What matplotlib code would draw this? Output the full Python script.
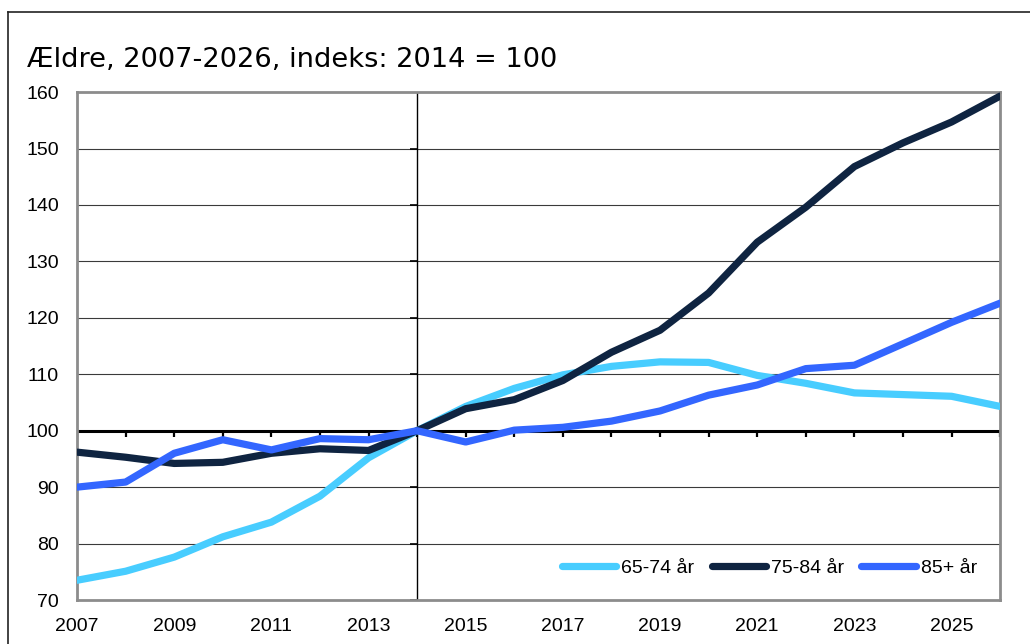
import matplotlib.pyplot as plt
from matplotlib.lines import Line2D
import numpy as np

years = list(range(2007, 2027))
age_65_74 = [73.5, 75.1, 77.6, 81.2, 83.8, 88.4, 95.2, 100.0, 104.3, 107.5,
             109.9, 111.4, 112.2, 112.1, 109.8, 108.4, 106.7, 106.4, 106.1, 104.3]
age_75_84 = [96.2, 95.3, 94.2, 94.4, 96.0, 96.8, 96.5, 100.0, 103.9, 105.5,
             108.9, 113.9, 117.8, 124.4, 133.4, 139.6, 146.8, 151.0, 154.7, 159.3]
age_85_plus = [90.0, 90.9, 96.0, 98.4, 96.6, 98.6, 98.4, 100.0, 98.0, 100.1,
               100.6, 101.7, 103.5, 106.3, 108.1, 111.0, 111.6, 115.4, 119.2, 122.6]
labels = ["65-74 år", "75-84 år", "85+ år"]
colors = ["#48CDFF", "#0F2441", "#3366FF"]
yticks = list(range(70, 161, 10))
xticks = list(range(2007, 2026, 2))
title = "Ældre, 2007-2026, indeks: 2014 = 100"

fig = plt.figure(figsize=(10.3, 6.44), dpi=100)
ax = fig.add_axes([0.0748, 0.0683, 0.8962, 0.7887])

# gridlines
for y in yticks[1:-1]:
	if y != 100:
		ax.axhline(y, color="#3a3a3a", lw=0.8, zorder=1)

# reference lines: index 100 and base year 2014
ax.axhline(100, color="black", lw=2.2, zorder=2)
ax.vlines(years, 98.8, 100, color="black", lw=1.6, zorder=2)
ax.axvline(2014, color="black", lw=1.0, zorder=2)
ax.hlines(yticks, 2014 - 0.15, 2014, color="black", lw=1.2, zorder=2)

series = [age_65_74, age_75_84, age_85_plus]
for s, lab, c in zip(series, labels, colors):
	ax.plot(years, s, color=c, lw=5.2, label=lab, zorder=3, solid_capstyle="round")

ax.set_xlim(2007, 2026)
ax.set_ylim(70, 160)
ax.set_yticks(yticks)
ax.set_xticks(xticks)
ax.tick_params(axis="both", length=0, labelsize=14)
ax.tick_params(axis="x", pad=13)
ax.tick_params(axis="y", pad=13)
for lbl in ax.get_xticklabels() + ax.get_yticklabels():
	lbl.set_family("Liberation Sans")
for sp in ax.spines.values():
	sp.set_color("#8c8c8c")
	sp.set_linewidth(2)

handles = [Line2D([], [], color=c, lw=5.2, solid_capstyle="round") for c in colors]
leg = ax.legend(handles, labels, loc="center right", bbox_to_anchor=(0.975, 0.063),
	ncol=3, frameon=False, handlelength=2.8, handletextpad=0.25, columnspacing=0.9,
	borderaxespad=0, borderpad=0, prop={"family": "Liberation Sans", "size": 14})

fig.text(0.026, 0.907, title, fontsize=19.6, family="DejaVu Sans", va="center", ha="left")

# figure frame (top and left)
fig.add_artist(Line2D([0.0078, 1.0], [0.981, 0.981], color="#222222", lw=1.2))
fig.add_artist(Line2D([0.0078, 0.0078], [0.0, 0.981], color="#222222", lw=1.2))

fig.savefig("out.png", dpi=100)
